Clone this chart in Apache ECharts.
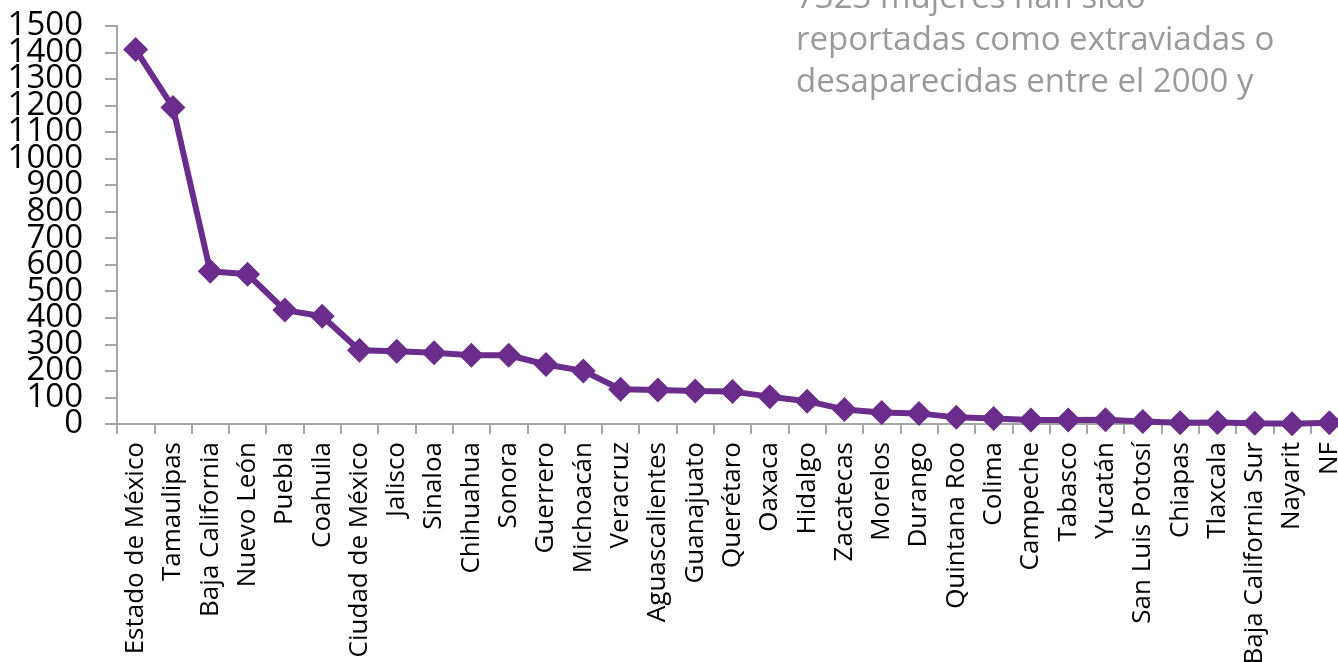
<!DOCTYPE html>
<html>
<head>
<meta charset="utf-8">
<script src="https://cdn.jsdelivr.net/npm/echarts@6/dist/echarts.min.js"></script>
<style>
html,body{margin:0;padding:0;background:#fff;}
#chart{width:1338px;height:662px;}
</style>
</head>
<body>
<div id="chart"></div>
<script>
const categories = ["Estado de México","Tamaulipas","Baja California","Nuevo León","Puebla","Coahuila","Ciudad de México","Jalisco","Sinaloa","Chihuahua","Sonora","Guerrero","Michoacán","Veracruz","Aguascalientes","Guanajuato","Querétaro","Oaxaca","Hidalgo","Zacatecas","Morelos","Durango","Quintana Roo","Colima","Campeche","Tabasco","Yucatán","San Luis Potosí","Chiapas","Tlaxcala","Baja California Sur","Nayarit","NF"];
const values = [1410,1192,575,564,429,406,278,274,268,259,259,224,200,131,128,124,122,103,86,55,43,40,25,21,15,15,16,9,5,6,3,1,5];
const titleLines = ["7323 mujeres han sido","reportadas como extraviadas o","desaparecidas entre el 2000 y"];

function yAxisDef(even, main){
  return {
    type:'value', min:0, max:1500, interval:100, position:'left', offset:0,
    splitLine:{show:false},
    axisLine:{show:main, lineStyle:{color:'#a6a6a6', width:2}},
    axisTick:{show:main, length:12, lineStyle:{color:'#a6a6a6', width:2}},
    axisLabel:{margin:34, color:'#000', fontFamily:'Open Sans', fontSize:33,
      showMinLabel:true, showMaxLabel:true, hideOverlap:false,
      formatter:function(v){ return ((v/100)%2===0)===even ? String(v) : ''; }}
  };
}

const chart = echarts.init(document.getElementById('chart'), null, {renderer:'canvas'});
chart.setOption({
  animation:false,
  backgroundColor:'#fff',
  grid:{left:117, top:25.7, width:1231, bottom:238, containLabel:false, outerBoundsMode:'none'},
  graphic:[{
    type:'text', left:796, top:-22, z:100,
    style:{text:titleLines.join('\n'), fill:'#9a9a9a', font:'33px "Open Sans"', lineHeight:42}
  }],
  xAxis:{
    type:'category', data:categories, boundaryGap:true,
    axisLine:{lineStyle:{color:'#a6a6a6', width:2}},
    axisTick:{show:true, length:10, lineStyle:{color:'#a6a6a6', width:2}},
    axisLabel:{rotate:90, interval:0, margin:18, color:'#000', fontFamily:'Open Sans', fontSize:26, lineHeight:26}
  },
  yAxis:[yAxisDef(true, true), yAxisDef(false, false)],
  series:[{
    type:'line', data:values, yAxisIndex:0,
    symbol:'diamond', symbolSize:25,
    lineStyle:{color:'#6b2d8b', width:6},
    itemStyle:{color:'#6b2d8b'}
  }]
});
</script>
</body>
</html>
